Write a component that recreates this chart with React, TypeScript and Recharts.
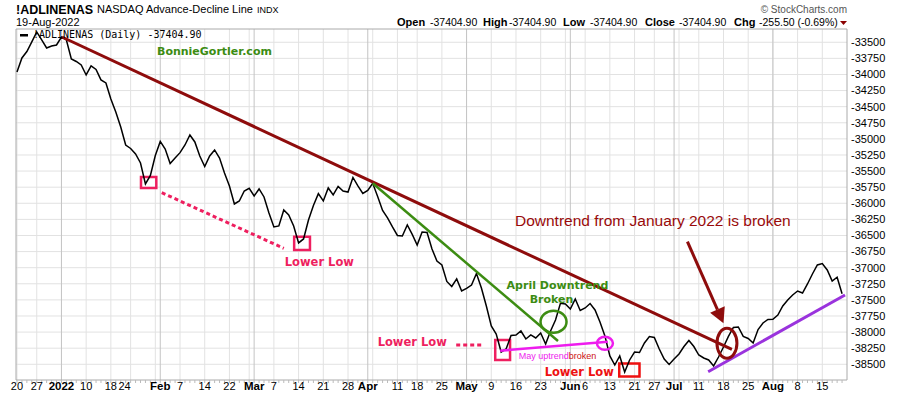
import React from 'react';
import {
  LineChart,
  Line,
  XAxis,
  YAxis,
  CartesianGrid,
  ReferenceLine,
  ReferenceArea,
  ReferenceDot,
} from 'recharts';

// NASDAQ Advance-Decline line, one value per trading day, 20-Dec-2021 .. 19-Aug-2022
const adValues: number[] = [
  -33961, -33744, -33643, -33495, -33340, -33464, -33589, -33557, -33542, -33418,
  -33464, -33759, -33798, -33852, -34008, -33868, -33922, -34085, -34132, -34380,
  -34582, -34815, -35095, -35149, -35235, -35374, -35700, -35568, -35258, -35040,
  -35157, -35382, -35297, -35214, -35095, -34939, -35048, -35266, -35429, -35266,
  -35172, -35297, -35530, -35731, -36011, -35964, -35809, -35767, -35887, -35778,
  -35902, -36151, -36368, -36352, -36104, -36182, -36352, -36616, -36554, -36259,
  -36034, -35851, -35964, -35762, -35871, -35739, -35809, -35825, -35599, -35731,
  -35848, -35801, -35689, -35894, -36112, -36228, -36368, -36500, -36508, -36337,
  -36484, -36648, -36446, -36453, -36710, -36896, -36958, -37214, -37292, -37175,
  -37362, -37320, -37269, -37090, -37315, -37595, -37905, -38030, -38309, -38262,
  -38053, -38045, -37983, -38107, -38045, -38092, -38014, -38185, -37983, -37812,
  -37553, -37564, -37641, -37486, -37665, -37626, -37556, -37657, -37843, -38061,
  -38371, -38511, -38371, -38620, -38433, -38309, -38317, -38169, -38068, -38084,
  -38262, -38418, -38503, -38418, -38340, -38224, -38130, -38224, -38356, -38402,
  -38433, -38526, -38387, -38231, -38068, -37929, -37921, -38068, -38099, -38169,
  -37960, -37859, -37804, -37801, -37735, -37595, -37502, -37424, -37362, -37393,
  -37253, -37098, -36958, -36935, -37036, -37207, -37149, -37405,
];

// x tick labels: [trading-day index, label]
const xTickIdx: number[] = [0, 4, 9, 14, 19, 23, 29, 33, 38, 43, 48, 52, 57, 62, 67, 71, 77, 81, 86, 91, 96, 101, 106, 112, 115, 120, 125, 129, 133, 138, 143, 148, 153, 158, 163];
const xTickText: string[] = ['20', '27', '2022', '10', '18', '24', 'Feb', '7', '14', '22', 'Mar', '7', '14', '21', '28', 'Apr', '11', '18', '25', 'May', '9', '16', '23', 'Jun', '6', '13', '21', '27', 'Jul', '11', '18', '25', 'Aug', '8', '15'];
const monthLabels: string[] = ['2022', 'Feb', 'Mar', 'Apr', 'May', 'Jun', 'Jul', 'Aug'];

// weekly grid (first trading day of each week) and month starts
const weekIdx: number[] = [0, 4, 9, 14, 19, 23, 28, 33, 38, 43, 47, 52, 57, 62, 67, 72, 77, 81, 86, 91, 96, 101, 106, 111, 115, 120, 125, 129, 134, 138, 143, 148, 153, 158, 163];
const monthIdx: number[] = [9, 29, 48, 71, 91, 112, 133, 153];

const yTicks: number[] = [
  -33500, -33750, -34000, -34250, -34500, -34750, -35000, -35250, -35500, -35750, -36000,
  -36250, -36500, -36750, -37000, -37250, -37500, -37750, -38000, -38250, -38500,
];

// annotations in data coordinates [index, value]
const downtrendJan = [{ x: 9.1, y: -33418 }, { x: 144.7, y: -38270 }];
const downtrendApr = [{ x: 72.0, y: -35689 }, { x: 109.5, y: -38138 }];
const uptrendMay = [{ x: 97.8, y: -38289 }, { x: 119.6, y: -38149 }];
const uptrendJul = [{ x: 139.9, y: -38615 }, { x: 167.6, y: -37424 }];
const pinkDotted1 = [{ x: 29.3, y: -35835 }, { x: 54.0, y: -36699 }];
const pinkDotted2 = [{ x: 88.9, y: -38200 }, { x: 94.3, y: -38200 }];
const arrowSeg = [{ x: 135.7, y: -36596 }, { x: 143.0, y: -37863 }];
const lowBoxes = [
  { x1: 25.1, x2: 28.2, y1: -35762, y2: -35592, c: '#ee1f5f' },
  { x1: 56.1, x2: 59.3, y1: -36725, y2: -36519, c: '#ee1f5f' },
  { x1: 96.8, x2: 99.8, y1: -38434, y2: -38123, c: '#ee1f5f' },
  { x1: 121.9, x2: 126.0, y1: -38690, y2: -38488, c: '#ee1111' },
];

const data = adValues.map((v, i) => ({ i, v }));

const RED = '#8e0c0c';
const GREEN = '#3c8c12';
const PINK = '#ee1f5f';
const MAGENTA = '#ee1cee';
const PURPLE = '#9a33dd';

const XTick = (props: any) => {
  const { x, y, payload } = props;
  const k = xTickIdx.indexOf(payload.value);
  if (k < 0) return <g />;
  const t = xTickText[k];
  const bold = monthLabels.includes(t);
  const dx = t === '24' && payload.value === 23 ? -6 : 0;
  return (
    <text
      x={x + dx}
      y={y}
      dy={5}
      textAnchor="middle"
      fontFamily="'Liberation Sans', Arial, sans-serif"
      fontSize={bold ? 11.5 : 11}
      fontWeight={bold ? 'bold' : 'normal'}
      fill="#000"
    >
      {t}
    </text>
  );
};

const label = (text: string, color: string, size: number, bold: boolean, family: string) => (p: any) => (
  <text
    x={p.cx}
    y={p.cy}
    textAnchor="middle"
    dominantBaseline="central"
    fill={color}
    fontSize={size}
    fontWeight={bold ? 'bold' : 'normal'}
    fontFamily={family}
  >
    {text}
  </text>
);

const ellipse = (rx: number, ry: number, color: string, w: number) => (p: any) => (
  <ellipse cx={p.cx} cy={p.cy} rx={rx} ry={ry} fill="none" stroke={color} strokeWidth={w} />
);

const ArrowShape = (p: any) => {
  const { x1, y1, x2, y2 } = p;
  const ang = Math.atan2(y2 - y1, x2 - x1);
  const hl = 15;
  const hw = 8;
  const bx = x2 - hl * Math.cos(ang);
  const by = y2 - hl * Math.sin(ang);
  const nx = -Math.sin(ang);
  const ny = Math.cos(ang);
  return (
    <g>
      <line x1={x1} y1={y1} x2={bx} y2={by} stroke={RED} strokeWidth={3} />
      <polygon
        points={`${x2},${y2} ${bx + nx * hw},${by + ny * hw} ${bx - nx * hw},${by - ny * hw}`}
        fill={RED}
      />
    </g>
  );
};

const VERDANA = "'DejaVu Sans', Verdana, sans-serif";
const ARIAL = "'Liberation Sans', Arial, sans-serif";

export default function App() {
  return (
    <div style={{ position: 'absolute', left: 0, top: 0, width: 900, height: 396, background: '#fff' }}>
      <LineChart
        width={900}
        height={396}
        data={data}
        margin={{ top: 29, right: 0, bottom: 0, left: 16 }}
      >
        <CartesianGrid
          stroke="#e2e2e2"
          horizontalValues={yTicks}
          verticalValues={weekIdx}
        />
        <CartesianGrid stroke="#c4c4c4" horizontal={false} verticalValues={monthIdx} />
        <XAxis
          dataKey="i"
          type="number"
          domain={[-0.2, 168]}
          allowDataOverflow
          ticks={adValues.map((_, i) => i)}
          interval={0}
          tick={<XTick />}
          tickSize={3}
          tickMargin={2}
          height={16}
          axisLine={{ stroke: '#aaa' }}
          tickLine={{ stroke: '#bbb' }}
        />
        <YAxis
          orientation="right"
          type="number"
          domain={[-38744, -33294]}
          allowDataOverflow
          ticks={yTicks}
          interval={0}
          width={53}
          tickSize={2}
          tickMargin={2}
          tickLine={false}
          axisLine={{ stroke: '#aaa' }}
          tick={{ fill: '#000', fontSize: 11, fontFamily: ARIAL, textAnchor: 'start' }}
        />
        <ReferenceLine y={-33294} stroke="#aaa" />
        <ReferenceLine x={-0.2} stroke="#aaa" />
        <Line
          type="linear"
          dataKey="v"
          stroke="#000"
          strokeWidth={1.5}
          dot={false}
          isAnimationActive={false}
        />
        {lowBoxes.map((b, k) => (
          <ReferenceArea
            key={k}
            x1={b.x1}
            x2={b.x2}
            y1={b.y1}
            y2={b.y2}
            fill="none"
            fillOpacity={0}
            stroke={b.c}
            strokeWidth={2.5}
            ifOverflow="visible"
          />
        ))}
        <ReferenceLine segment={downtrendJan} stroke={RED} strokeWidth={3} ifOverflow="visible" />
        <ReferenceLine segment={downtrendApr} stroke={GREEN} strokeWidth={2.5} ifOverflow="visible" />
        <ReferenceLine segment={uptrendMay} stroke={MAGENTA} strokeWidth={2.5} ifOverflow="visible" />
        <ReferenceLine segment={uptrendJul} stroke={PURPLE} strokeWidth={3} ifOverflow="visible" />
        <ReferenceLine segment={pinkDotted1} stroke={PINK} strokeWidth={3} strokeDasharray="4 3" ifOverflow="visible" />
        <ReferenceLine segment={pinkDotted2} stroke={PINK} strokeWidth={3} strokeDasharray="4 3" ifOverflow="visible" />
        <ReferenceLine segment={arrowSeg} shape={ArrowShape} ifOverflow="visible" />
        <ReferenceDot x={108.6} y={-37839} r={1} ifOverflow="visible" shape={ellipse(13, 11, GREEN, 2.5)} />
        <ReferenceDot x={119.0} y={-38174} r={1} ifOverflow="visible" shape={ellipse(8, 6.5, MAGENTA, 2.5)} />
        <ReferenceDot x={143.7} y={-38174} r={1} ifOverflow="visible" shape={ellipse(10, 15, RED, 3)} />
        <ReferenceDot x={61.2} y={-36912} r={1} ifOverflow="visible" shape={label('Lower Low', PINK, 11.5, true, VERDANA)} />
        <ReferenceDot x={80.0} y={-38154} r={1} ifOverflow="visible" shape={label('Lower Low', PINK, 11.5, true, VERDANA)} />
        <ReferenceDot x={113.8} y={-38620} r={1} ifOverflow="visible" shape={label('Lower Low', '#ee1111', 11.5, true, VERDANA)} />
        <ReferenceDot x={109.4} y={-37270} r={1} ifOverflow="visible" shape={label('April Downtrend', GREEN, 11, true, VERDANA)} />
        <ReferenceDot x={108.2} y={-37495} r={1} ifOverflow="visible" shape={label('Broken', GREEN, 11, true, VERDANA)} />
        <ReferenceDot
          x={109.4}
          y={-38379}
          r={1}
          ifOverflow="visible"
          shape={(p: any) => (
            <text x={p.cx} y={p.cy} textAnchor="middle" dominantBaseline="central" fontSize={9} fontFamily={ARIAL}>
              <tspan fill={MAGENTA}>May uptrend</tspan>
              <tspan fill="#cc1111">broken</tspan>
            </text>
          )}
        />
        <ReferenceDot
          x={128.7}
          y={-36275}
          r={1}
          ifOverflow="visible"
          shape={label('Downtrend from January 2022 is broken', '#990a0a', 15.5, false, ARIAL)}
        />
      </LineChart>
      <svg
        width={900}
        height={396}
        style={{ position: 'absolute', left: 0, top: 0, pointerEvents: 'none' }}
      >
        <text x={16} y={13.5} fontFamily={ARIAL} fontSize={12.5} fontWeight="bold" fill="#000">!ADLINENAS</text>
        <text x={97} y={13} fontFamily={ARIAL} fontSize={11} fill="#000">NASDAQ Advance-Decline Line</text>
        <text x={257} y={13} fontFamily={ARIAL} fontSize={9} fill="#000">INDX</text>
        <text x={16} y={26} fontFamily={ARIAL} fontSize={11} fill="#000">19-Aug-2022</text>
        <text x={847} y={13} textAnchor="end" fontFamily={ARIAL} fontSize={10} fill="#555">© StockCharts.com</text>
        <text y={26} fontFamily={ARIAL} fill="#000">
          <tspan x={397} fontSize={11} fontWeight="bold">Open</tspan>
          <tspan x={430} fontSize={10.5}>-37404.90</tspan>
          <tspan x={483} fontSize={11} fontWeight="bold">High</tspan>
          <tspan x={509} fontSize={10.5}>-37404.90</tspan>
          <tspan x={563} fontSize={11} fontWeight="bold">Low</tspan>
          <tspan x={590} fontSize={10.5}>-37404.90</tspan>
          <tspan x={645} fontSize={11} fontWeight="bold">Close</tspan>
          <tspan x={679} fontSize={10.5}>-37404.90</tspan>
          <tspan x={734} fontSize={11} fontWeight="bold">Chg</tspan>
          <tspan x={759} fontSize={10.5}>-255.50 (-0.69%)</tspan>
        </text>
        <polygon points="840,21 847,21 843.5,25" fill="#8b0000" />
        <rect x={20} y={34} width={8} height={2.5} fill="#000" />
        <text x={33} y={38} fontFamily="'DejaVu Sans Mono', monospace" fontSize={10} fill="#000">!ADLINENAS (Daily) -37404.90</text>
        <text x={157} y={54.5} fontFamily={VERDANA} fontSize={11} fontWeight="bold" fill={GREEN}>BonnieGortler.com</text>
      </svg>
    </div>
  );
}
